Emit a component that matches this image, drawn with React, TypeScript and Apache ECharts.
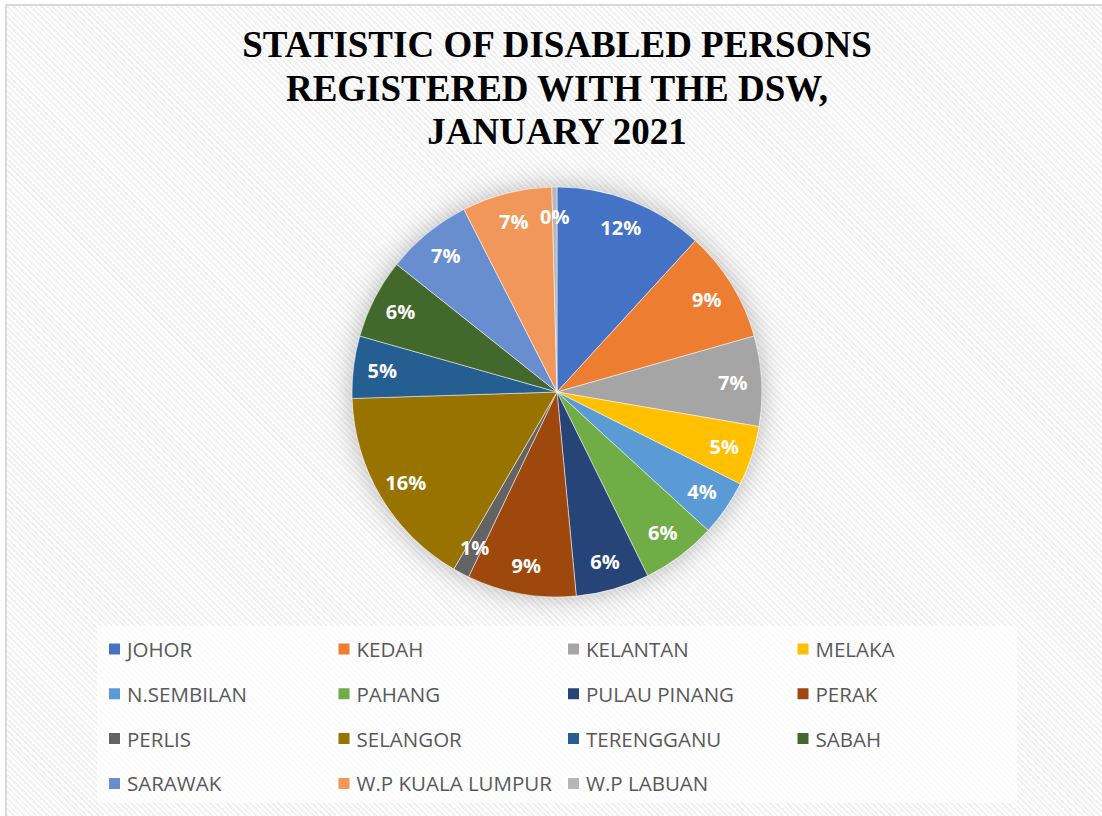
import React, { useEffect, useRef } from "react";
import * as echarts from "echarts";

const TITLE_LINES = ["STATISTIC OF DISABLED PERSONS", "REGISTERED WITH THE DSW,", "JANUARY 2021"];

const categories = [
  "JOHOR", "KEDAH", "KELANTAN", "MELAKA", "N.SEMBILAN",
  "PAHANG", "PULAU PINANG", "PERAK", "PERLIS", "SELANGOR",
  "TERENGGANU", "SABAH", "SARAWAK", "W.P KUALA LUMPUR", "W.P LABUAN",
];

// share of registered persons (%)
const shares = [
  11.8, 8.8, 7.1, 4.7, 4.4,
  5.9, 5.8, 8.6, 1.3, 16.1,
  4.9, 6.3, 6.8, 7.1, 0.4,
];

const colors = [
  "#4472C4", "#ED7D31", "#A5A5A5", "#FFC000", "#5B9BD5",
  "#70AD47", "#264478", "#9E480E", "#636363", "#997300",
  "#255E91", "#43682B", "#698ED0", "#F1975A", "#B7B7B7",
];

const CX = 557;
const CY = 392;
const R = 205;

export default function App() {
  const ref = useRef<HTMLDivElement>(null);

  useEffect(() => {
    if (!ref.current) return;
    const chart = echarts.init(ref.current, undefined, { renderer: "svg" });

    const data = categories.map((name, i) => ({
      name,
      value: shares[i],
      itemStyle: { color: colors[i] },
    }));

    const labelData = categories.map((name, i) => ({
      name,
      value: shares[i],
    }));

    const columns = [0, 1, 2, 3].map((c) => categories.filter((_, i) => i % 4 === c));
    const colLeft = [107, 336.5, 566, 795.5];

    const legends = columns.map((names, c) => ({
      orient: "vertical",
      left: colLeft[c],
      top: 638.5,
      padding: 0,
      itemGap: 23.8,
      itemWidth: 13,
      itemHeight: 13,
      icon: "rect",
      selectedMode: false,
      data: names,
      textStyle: {
        color: "#595959",
        fontFamily: "Open Sans",
        fontSize: 20.5,
        lineHeight: 21,
        padding: [0, 0, 0, 1],
      },
    }));

    chart.setOption({
      animation: false,
      backgroundColor: "transparent",
      title: {
        text: TITLE_LINES.join("\n"),
        left: CX,
        top: 23,
        padding: 0,
        textAlign: "center",
        textStyle: {
          fontFamily: "Liberation Serif",
          fontWeight: "bold",
          fontSize: 37,
          lineHeight: 43.5,
          color: "#000000",
        },
      },
      legend: legends,
      graphic: {
        elements: [
          {
            type: "rect",
            z: 0,
            silent: true,
            shape: { x: 97, y: 626, width: 920, height: 177 },
            style: { fill: "rgba(255,255,255,0.7)" },
          },
          {
            type: "circle",
            z: 0,
            silent: true,
            shape: { cx: CX, cy: CY, r: R },
            style: { fill: "#ffffff", shadowBlur: 28, shadowColor: "rgba(0,0,0,0.28)" },
          },
        ],
      },
      series: [
        {
          type: "pie",
          name: "share",
          center: [CX, CY],
          radius: [0, R],
          startAngle: 90,
          clockwise: true,
          silent: true,
          label: { show: false },
          labelLine: { show: false },
          itemStyle: { borderColor: "#ffffff", borderWidth: 0.5 },
          emphasis: { disabled: true },
          data,
        },
        {
          type: "pie",
          name: "labels",
          center: [CX, CY],
          radius: [141, R],
          startAngle: 90,
          clockwise: true,
          silent: true,
          percentPrecision: 0,
          itemStyle: { color: "rgba(0,0,0,0)", borderWidth: 0 },
          labelLine: { show: false },
          emphasis: { disabled: true },
          label: {
            show: true,
            position: "inside",
            formatter: "{d}%",
            color: "#ffffff",
            fontFamily: "Open Sans",
            fontWeight: "bold",
            fontSize: 20,
          },
          data: labelData,
        },
      ],
    });

    return () => chart.dispose();
  }, []);

  return (
    <div
      style={{
        position: "fixed",
        left: 0,
        top: 0,
        width: 1102,
        height: 816,
        background: "#ffffff",
        overflow: "hidden",
      }}
    >
      <div
        style={{
          position: "absolute",
          left: 5,
          top: 4,
          width: 1120,
          height: 830,
          borderLeft: "2px solid #dadada",
          borderTop: "2px solid #dadada",
          background:
            "repeating-linear-gradient(45deg, #ffffff 0px, #ffffff 2px, #f1f1f1 2px, #f1f1f1 4px)",
        }}
      />
      <div ref={ref} style={{ position: "absolute", left: 0, top: 0, width: 1102, height: 816 }} />
    </div>
  );
}
